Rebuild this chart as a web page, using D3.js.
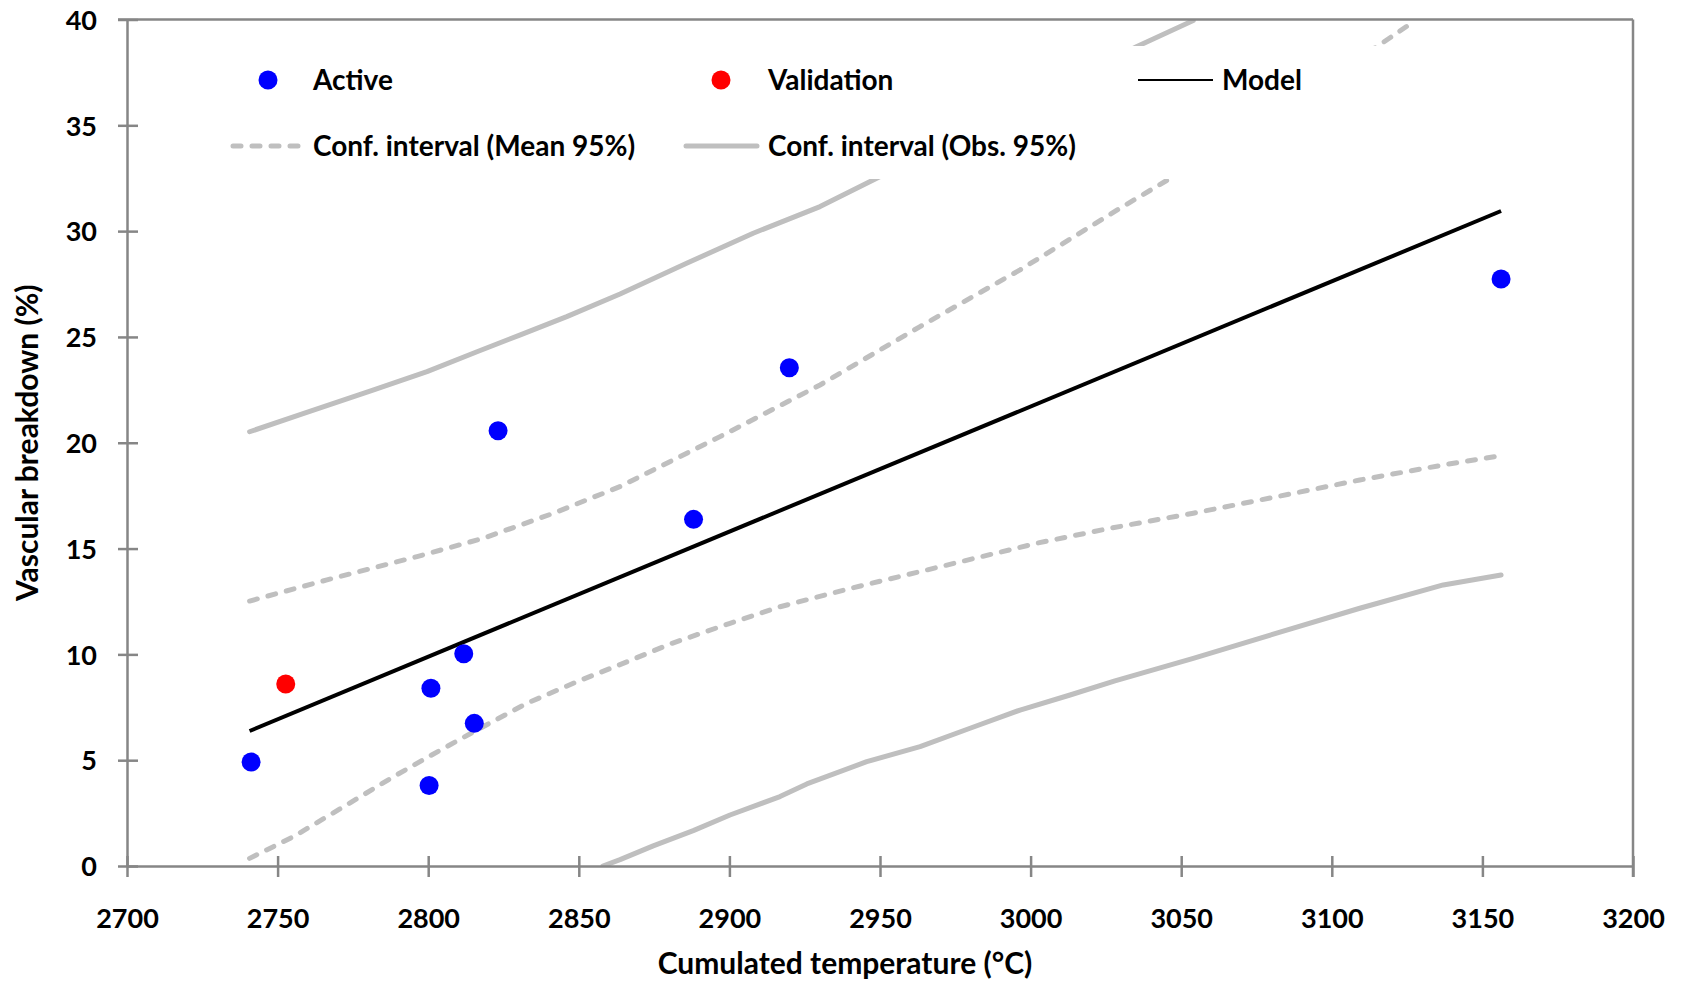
<!DOCTYPE html>
<html>
<head>
<meta charset="utf-8">
<script src="https://cdn.jsdelivr.net/npm/d3@7"></script>
<style>
  body { margin: 0; background: #fff; }
  svg text { font-family: Lato, "Open Sans", sans-serif; font-weight: bold; fill: #000; }
</style>
</head>
<body>
<div id="chart"></div>
<script>
// Valeurs
const xTicks = [2700, 2750, 2800, 2850, 2900, 2950, 3000, 3050, 3100, 3150, 3200];
const yTicks = [0, 5, 10, 15, 20, 25, 30, 35, 40];

const activeX = [2741.2, 2800.3, 2800.9, 2811.8, 2815.3, 2823.2, 2888.1, 2919.9, 3156.2];
const activeY = [4.91, 3.80, 8.40, 10.03, 6.74, 20.57, 16.38, 23.54, 27.74];

const validationX = [2752.7];
const validationY = [8.6];

const modelX = [2740.7, 3156.2];
const modelY = [6.38, 30.95];

// Intervalle de confiance (moyenne 95%)
const meanUpX = [2740.7, 2766.4, 2796.3, 2818.4, 2841.6, 2863.7, 2896.9, 2930.1, 2963.3, 2996.5, 3029.7, 3045.5, 3115.0, 3127.7];
const meanUpY = [12.52, 13.52, 14.62, 15.49, 16.67, 17.93, 20.29, 22.73, 25.49, 28.17, 31.08, 32.42, 38.72, 39.95];
const meanLoX = [2740.7, 2755.3, 2771.9, 2788.5, 2800.2, 2816.2, 2832.8, 2849.4, 2866.0, 2880.3, 2900.2, 2916.8, 2941.1, 2963.3, 2978.0, 3002.0, 3026.4, 3054.0, 3081.7, 3109.3, 3137.0, 3156.2];
const meanLoY = [0.36, 1.39, 2.80, 4.22, 5.17, 6.43, 7.69, 8.71, 9.65, 10.49, 11.47, 12.25, 13.15, 13.91, 14.42, 15.25, 15.96, 16.67, 17.45, 18.24, 18.95, 19.39];

// Intervalle de confiance (observations 95%)
const obsUpX = [2740.7, 2758.7, 2781.9, 2799.6, 2816.2, 2830.6, 2846.0, 2863.7, 2885.8, 2907.9, 2930.1, 2948.9, 3035.3, 3054.0];
const obsUpY = [20.52, 21.39, 22.50, 23.36, 24.30, 25.10, 25.96, 27.03, 28.48, 29.90, 31.16, 32.50, 38.72, 39.95];
const obsLoX = [2858.0, 2863.7, 2874.7, 2888.0, 2900.2, 2916.8, 2925.7, 2945.6, 2963.3, 2979.9, 2996.5, 3013.1, 3028.0, 3054.0, 3081.7, 3109.3, 3137.0, 3156.2];
const obsLoY = [0.0, 0.30, 0.95, 1.67, 2.41, 3.28, 3.88, 4.93, 5.64, 6.51, 7.37, 8.08, 8.75, 9.81, 11.00, 12.18, 13.28, 13.75];

const width = 1683;
const height = 981;
const marginLeft = 127;
const marginRight = 50;
const marginTop = 19.5;
const marginBottom = 115;

const axisColor = "#868686";
const ciColor = "#bfbfbf";
const tickFont = "27px";
const legendFont = "28px";
const titleFont = "30px";

const svg = d3.select("#chart").append("svg")
  .attr("width", width)
  .attr("height", height);

const x = d3.scaleLinear().domain([2700, 3200]).range([marginLeft, width - marginRight]);
const y = d3.scaleLinear().domain([0, 40]).range([height - marginBottom, marginTop]);

const zip = (xs, ys) => xs.map((v, i) => ({ x: v, y: ys[i] }));
const line = d3.line().x(d => x(d.x)).y(d => y(d.y));

// Zone de tracé (clip)
svg.append("clipPath").attr("id", "plot-clip")
  .append("rect")
  .attr("x", x(2700)).attr("y", y(40))
  .attr("width", x(3200) - x(2700)).attr("height", y(0) - y(40));

const plot = svg.append("g").attr("clip-path", "url(#plot-clip)");

// Courbes des intervalles
[[obsUpX, obsUpY], [obsLoX, obsLoY]].forEach(([xs, ys]) => {
  plot.append("path").datum(zip(xs, ys))
    .attr("fill", "none").attr("stroke", ciColor).attr("stroke-width", 5)
    .attr("stroke-linejoin", "round").attr("stroke-linecap", "round")
    .attr("d", line);
});
[[meanUpX, meanUpY], [meanLoX, meanLoY]].forEach(([xs, ys]) => {
  plot.append("path").datum(zip(xs, ys))
    .attr("fill", "none").attr("stroke", ciColor).attr("stroke-width", 5)
    .attr("stroke-linecap", "round").attr("stroke-dasharray", "8 11")
    .attr("d", line);
});

// Modèle
plot.append("path").datum(zip(modelX, modelY))
  .attr("fill", "none").attr("stroke", "#000").attr("stroke-width", 4)
  .attr("d", line);

// Points
plot.selectAll(".active").data(zip(activeX, activeY)).enter()
  .append("circle").attr("class", "active")
  .attr("cx", d => x(d.x)).attr("cy", d => y(d.y)).attr("r", 9.5)
  .attr("fill", "#0000ff");
plot.selectAll(".validation").data(zip(validationX, validationY)).enter()
  .append("circle").attr("class", "validation")
  .attr("cx", d => x(d.x)).attr("cy", d => y(d.y)).attr("r", 9.5)
  .attr("fill", "#ff0000");

// Axes
const gx = svg.append("g")
  .attr("transform", `translate(0,${y(0)})`)
  .call(d3.axisBottom(x).tickValues(xTicks).tickFormat(d3.format("d")).tickSizeOuter(0));
gx.selectAll(".tick line").attr("y1", -10).attr("y2", 11);
gx.selectAll(".tick text").attr("y", 62).attr("dy", 0).style("font-size", tickFont);

const gy = svg.append("g")
  .attr("transform", `translate(${x(2700)},0)`)
  .call(d3.axisLeft(y).tickValues(yTicks).tickSizeOuter(0));
gy.selectAll(".tick line").attr("x1", -9).attr("x2", 11);
gy.selectAll(".tick text").attr("x", -30).attr("dy", "0.36em").style("font-size", tickFont);

svg.selectAll(".domain, .tick line")
  .attr("stroke", axisColor).attr("stroke-width", 2.5);
svg.selectAll(".tick text").attr("fill", "#000");

// Cadre haut et droit
svg.append("line")
  .attr("x1", x(2700) - 9).attr("x2", x(3200)).attr("y1", y(40)).attr("y2", y(40))
  .attr("stroke", axisColor).attr("stroke-width", 2.5);
svg.append("line")
  .attr("x1", x(3200)).attr("x2", x(3200)).attr("y1", y(40)).attr("y2", y(0) + 11)
  .attr("stroke", axisColor).attr("stroke-width", 2.5);

// Titres des axes
svg.append("text")
  .attr("x", 845).attr("y", 974)
  .attr("text-anchor", "middle").style("font-size", titleFont)
  .text("Cumulated temperature (°C)");
svg.append("text")
  .attr("transform", `translate(38,${(y(0) + y(40)) / 2}) rotate(-90)`)
  .attr("text-anchor", "middle").style("font-size", titleFont)
  .text("Vascular breakdown (%)");

// Légende
const legend = svg.append("g");
legend.append("rect")
  .attr("x", 205).attr("y", 46).attr("width", 1200).attr("height", 133)
  .attr("fill", "#fff");

const row1 = 80, row2 = 146;
const base = 10;
legend.append("circle").attr("cx", 268).attr("cy", row1).attr("r", 9.5).attr("fill", "#0000ff");
legend.append("text").attr("x", 313).attr("y", row1 + base).style("font-size", legendFont).text("Active");
legend.append("circle").attr("cx", 721).attr("cy", row1).attr("r", 9.5).attr("fill", "#ff0000");
legend.append("text").attr("x", 768).attr("y", row1 + base).style("font-size", legendFont).text("Validation");
legend.append("line").attr("x1", 1138).attr("x2", 1213).attr("y1", row1).attr("y2", row1)
  .attr("stroke", "#000").attr("stroke-width", 2);
legend.append("text").attr("x", 1222).attr("y", row1 + base).style("font-size", legendFont).text("Model");

legend.append("line").attr("x1", 233).attr("x2", 305).attr("y1", row2).attr("y2", row2)
  .attr("stroke", ciColor).attr("stroke-width", 5)
  .attr("stroke-linecap", "round").attr("stroke-dasharray", "8 11");
legend.append("text").attr("x", 313).attr("y", row2 + base).style("font-size", legendFont).text("Conf. interval (Mean 95%)");
legend.append("line").attr("x1", 686).attr("x2", 757).attr("y1", row2).attr("y2", row2)
  .attr("stroke", ciColor).attr("stroke-width", 5).attr("stroke-linecap", "round");
legend.append("text").attr("x", 768).attr("y", row2 + base).style("font-size", legendFont).text("Conf. interval (Obs. 95%)");
</script>
</body>
</html>
